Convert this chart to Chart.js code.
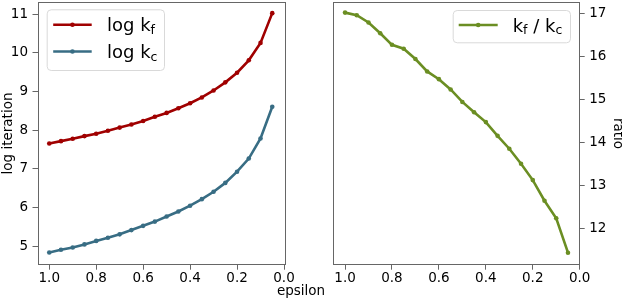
<!DOCTYPE html>
<html>
<head>
<meta charset="utf-8">
<script src="https://cdn.jsdelivr.net/npm/chart.js@4.4.1/dist/chart.umd.min.js"></script>
<style>
  html, body { margin: 0; padding: 0; background: #fff; }
  #fig { position: relative; width: 622px; height: 298px; font-family: "DejaVu Sans", sans-serif; }
  #left { position: absolute; left: 0; top: 0; }
  #right { position: absolute; left: 300px; top: 0; }
  #xlabel { position: absolute; left: 301px; top: 282px; transform: translateX(-50%); font-size: 13.5px; color: #000; line-height: 16px; }
</style>
</head>
<body>
<div id="fig">
  <canvas id="left" width="300" height="298"></canvas>
  <canvas id="right" width="322" height="298"></canvas>
  <div id="xlabel">epsilon</div>
</div>
<script>
// values
const epsilon = [1.0, 0.95, 0.9, 0.85, 0.8, 0.75, 0.7, 0.65, 0.6, 0.55,
                 0.5, 0.45, 0.4, 0.35, 0.3, 0.25, 0.2, 0.15, 0.1, 0.05];
const logKf = [7.66, 7.72, 7.78, 7.85, 7.91, 7.99, 8.07, 8.15, 8.24, 8.35,
               8.45, 8.57, 8.70, 8.85, 9.03, 9.24, 9.49, 9.81, 10.26, 11.03];
const logKc = [4.84, 4.91, 4.97, 5.05, 5.14, 5.22, 5.31, 5.42, 5.53, 5.64,
               5.77, 5.90, 6.05, 6.22, 6.41, 6.64, 6.93, 7.27, 7.79, 8.61];
const ratio = [17.02, 16.96, 16.79, 16.54, 16.27, 16.18, 15.94, 15.65, 15.47, 15.23,
               14.94, 14.70, 14.47, 14.15, 13.85, 13.50, 13.12, 12.64, 12.23, 11.43];

// legend labels: [text, isSubscript]
const labelKf = [['log k', false], ['f', true]];
const labelKc = [['log k', false], ['c', true]];
const labelRatio = [['k', false], ['f', true], [' / k', false], ['c', true]];

const RED = '#a00000', BLUE = '#386d84', GREEN = '#6b8e23', SPINE = '#666666';

Chart.defaults.font.family = '"DejaVu Sans", sans-serif';
Chart.defaults.font.size = 13.5;
Chart.defaults.color = '#000';

const toXY = (ys) => ys.map((y, i) => ({x: epsilon[i], y: y}));

// full box around the plot area
const frameBox = {
  id: 'frameBox',
  afterDatasetsDraw(chart) {
    const a = chart.chartArea, ctx = chart.ctx;
    ctx.save();
    ctx.strokeStyle = SPINE;
    ctx.lineWidth = 1;
    ctx.strokeRect(Math.round(a.left) + 0.5, Math.round(a.top) + 0.5,
                   Math.round(a.right - a.left), Math.round(a.bottom - a.top));
    ctx.restore();
  }
};

// matplotlib-like legend with subscripts
const subLegend = {
  id: 'subLegend',
  afterDraw(chart, args, opts) {
    const ctx = chart.ctx;
    const [bx, by, bw, bh] = opts.box;
    ctx.save();
    ctx.beginPath();
    ctx.roundRect(bx + 0.5, by + 0.5, bw, bh, 4);
    ctx.fillStyle = 'rgba(255,255,255,0.8)';
    ctx.fill();
    ctx.strokeStyle = '#d9d9d9';
    ctx.lineWidth = 1;
    ctx.stroke();
    opts.items.forEach((it, i) => {
      const y = by + opts.firstRow + i * opts.rowGap;
      ctx.strokeStyle = it.color;
      ctx.lineWidth = 2.6;
      ctx.beginPath();
      ctx.moveTo(bx + opts.lineX0, y);
      ctx.lineTo(bx + opts.lineX1, y);
      ctx.stroke();
      ctx.fillStyle = it.color;
      ctx.beginPath();
      ctx.arc(bx + (opts.lineX0 + opts.lineX1) / 2, y, 2.3, 0, 2 * Math.PI);
      ctx.fill();
      let x = bx + opts.textX;
      ctx.fillStyle = '#000';
      ctx.textBaseline = 'alphabetic';
      ctx.textAlign = 'left';
      it.parts.forEach(([t, sub]) => {
        ctx.font = sub ? '12.5px "DejaVu Sans"' : '18px "DejaVu Sans"';
        ctx.fillText(t, x, sub ? y + 9.3 : y + 6.6);
        x += ctx.measureText(t).width;
      });
    });
    ctx.restore();
  }
};

function lineDataset(values, color) {
  return {
    data: toXY(values),
    borderColor: color,
    backgroundColor: color,
    borderWidth: 2.6,
    pointRadius: 2.3,
    pointHoverRadius: 2.3,
    pointBorderWidth: 0,
    tension: 0
  };
}

function xScale() {
  return {
    type: 'linear',
    reverse: true,
    min: 0,
    max: 1.05,
    border: {display: false},
    grid: {drawOnChartArea: false, drawTicks: true, tickLength: 5, color: SPINE},
    ticks: {
      stepSize: 0.2,
      includeBounds: false,
      padding: 1,
      maxRotation: 0,
      callback: (v) => v.toFixed(1)
    },
    afterFit: (s) => { s.height = 33.3; s.paddingLeft = 0; s.paddingRight = 0; }
  };
}

function yScale(pos, min, max, title, width, titlePad) {
  return {
    type: 'linear',
    position: pos,
    min: min,
    max: max,
    border: {display: false},
    grid: {drawOnChartArea: false, drawTicks: true, tickLength: 5, color: SPINE},
    ticks: {stepSize: 1, includeBounds: false, padding: 4.5, callback: (v) => String(v)},
    title: {display: true, text: title, font: {size: 13.5}, padding: {top: titlePad, bottom: 0}},
    afterFit: (s) => { s.width = width; s.paddingTop = 0; s.paddingBottom = 0; }
  };
}

window.addEventListener('load', () => {
  new Chart(document.getElementById('left').getContext('2d'), {
    type: 'line',
    data: {datasets: [lineDataset(logKf, RED), lineDataset(logKc, BLUE)]},
    options: {
      responsive: false,
      animation: false,
      layout: {padding: {top: 1.5, right: 16, left: 0, bottom: 0}},
      scales: {
        x: xScale(),
        y: yScale('left', 4.525, 11.31, 'log iteration', 37.5, 0)
      },
      plugins: {
        legend: {display: false},
        tooltip: {enabled: false},
        subLegend: {
          box: [46.7, 9.3, 117.3, 60.7],
          lineX0: 6.5, lineX1: 45, textX: 60.3, firstRow: 15.5, rowGap: 26.7,
          items: [{color: RED, parts: labelKf}, {color: BLUE, parts: labelKc}]
        }
      }
    },
    plugins: [frameBox, subLegend]
  });

  new Chart(document.getElementById('right').getContext('2d'), {
    type: 'line',
    data: {datasets: [lineDataset(ratio, GREEN)]},
    options: {
      responsive: false,
      animation: false,
      layout: {padding: {top: 1.5, right: 0, left: 33.3, bottom: 0}},
      scales: {
        x: xScale(),
        y: yScale('right', 11.15, 17.26, 'ratio', 42.3, -3.5)
      },
      plugins: {
        legend: {display: false},
        tooltip: {enabled: false},
        subLegend: {
          box: [152.7, 10, 117.3, 32.3],
          lineX0: 6, lineX1: 45, textX: 60, firstRow: 15, rowGap: 26.7,
          items: [{color: GREEN, parts: labelRatio}]
        }
      }
    },
    plugins: [frameBox, subLegend]
  });
});
</script>
</body>
</html>
